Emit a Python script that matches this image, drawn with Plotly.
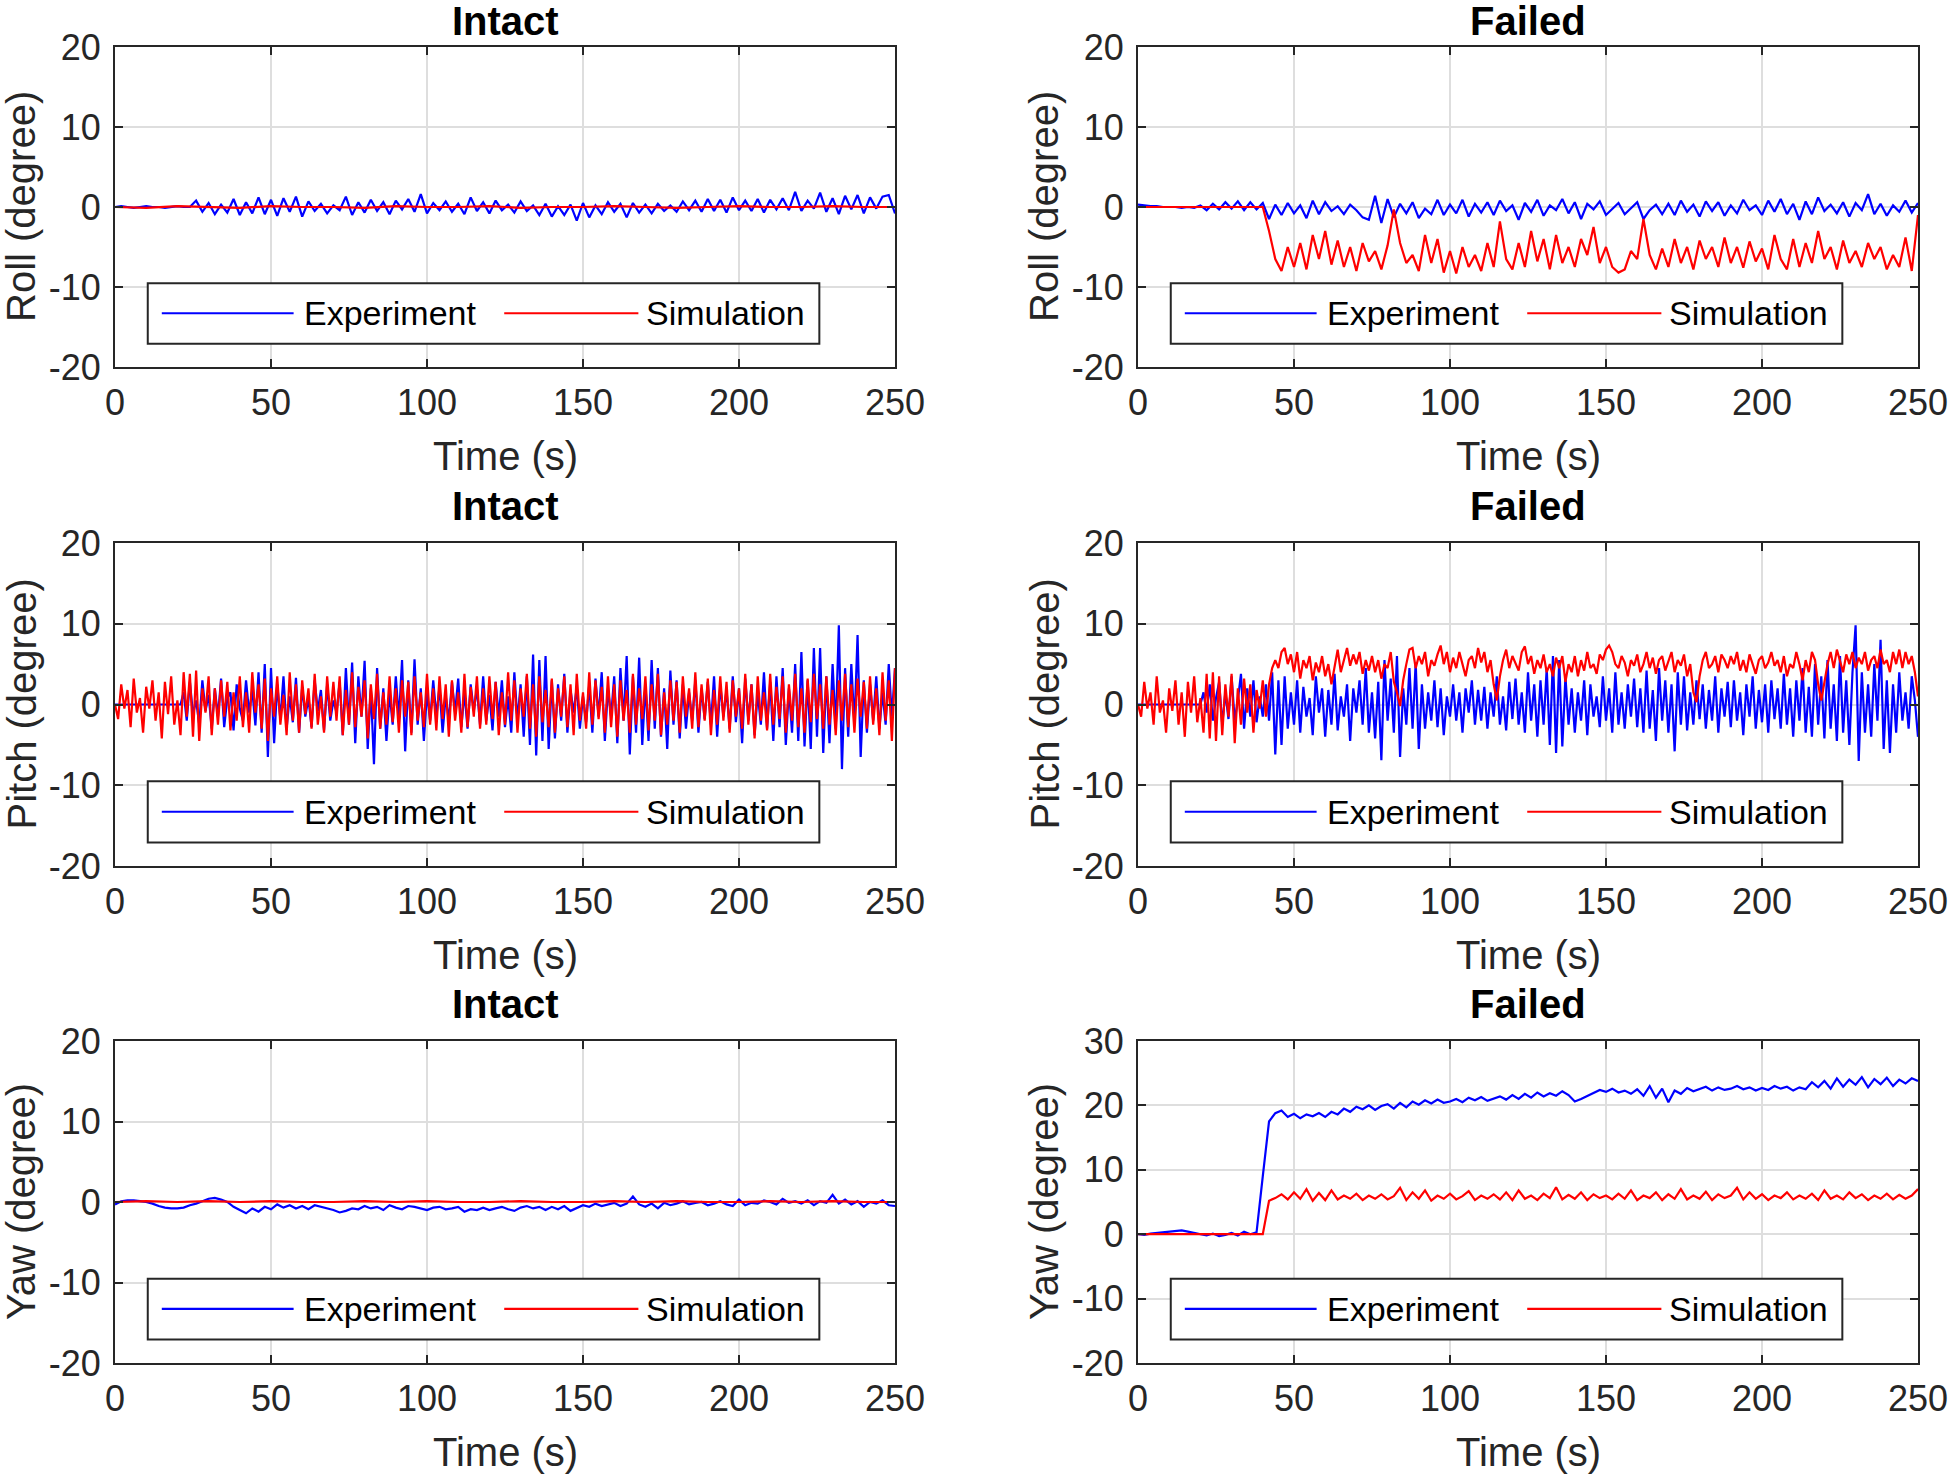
import numpy as np
import plotly.graph_objects as go

# ---------------- data ----------------
x_ticks = [0, 50, 100, 150, 200, 250]
y_ticks_std = [-20, -10, 0, 10, 20]
y_ticks_yawf = [-20, -10, 0, 10, 20, 30]
col_titles = ["Intact", "Failed"]
row_labels = ["Roll (degree)", "Pitch (degree)", "Yaw (degree)"]
series_names = ["Experiment", "Simulation"]

# Roll, intact (2 s samples)
roll_intact_exp = [
    0, 0.1, 0, -0.1, 0, 0.1, 0, 0, -0.1, 0, 0.1, 0, 0,
    0.8, -0.6, 0.5, -0.9, 0.3, -0.7, 1.0, -1.0, 0.6, -0.8, 1.2, -0.9,
    0.9, -1.1, 1.1, -0.6, 1.3, -1.2, 0.7, -0.5, 0.4, -0.8, 0.2, -0.4,
    1.3, -1.0, 0.6, -0.7, 0.9, -0.5, 0.6, -0.9, 0.8, -0.3, 1.0, -0.6,
    1.6, -0.8, 0.5, -0.4, 0.7, -0.6, 0.4, -0.9, 1.2, -0.5, 0.6, -0.8,
    0.8, -0.4, 0.3, -0.7, 0.7, -0.5, 0.2, -1.0, 0.4, -1.2, 0.1, -1.0,
    0.3, -1.7, 0.5, -1.3, 0.2, -0.9, 0.6, -0.6, 0.4, -1.3, 0.5, -0.7,
    0.3, -0.8, 0.4, -0.5, 0.2, -0.6, 0.7, -0.4, 0.8, -0.6, 1.0, -0.5,
    0.9, -0.7, 1.2, -0.4, 0.8, -0.5, 1.0, -0.7, 0.9, -0.3, 1.1, -0.4,
    1.9, -0.5, 0.8, -0.2, 1.8, -0.6, 1.1, -0.9, 1.4, -0.3, 1.5, -0.8,
    1.2, -0.2, 1.3, 1.5, -0.8]
roll_intact_sim = [0, -0.1, 0.1, 0, -0.1, 0.1, 0, 0, -0.1, 0.1, 0, 0, 0.1,
                   -0.1, 0, 0, 0.1, 0, -0.1, 0, 0.1, 0, 0, 0.1, 0, 0]

# Roll, failed (2 s samples)
roll_failed_exp = [
    0.3, 0.2, 0.1, 0.1, 0, 0, 0, -0.1, 0, -0.1,
    0.2, -0.4, 0.4, -0.3, 0.6, -0.2, 0.7, -0.4, 0.6, -0.3,
    0.5, -1.5, 0.3, -1.0, 0.5, -0.8, 0.2, -1.4, 0.8, -0.9,
    0.6, -0.5, 0.1, -0.9, 0.3, -0.4, -1.3, -1.6, 1.4, -2.0,
    1.0, -1.3, 0.4, -0.8, 0.6, -1.4, -0.2, -0.9, 0.9, -1.0,
    0.3, -0.8, 0.9, -1.2, 0.4, -0.7, 0.6, -1.0, 0.8, -0.5,
    0.2, -1.6, 0.5, -0.6, 0.9, -1.1, 0.2, -0.4, 1.0, -0.8,
    0.6, -1.5, 0.4, -0.3, 0.7, -1.0, -0.3, 0.5, -0.9, -0.2,
    0.6, -1.5, -0.4, 0.3, -0.9, 0.4, -1.0, 0.8, -0.6, 0.3,
    -1.2, 0.7, -0.5, 0.6, -1.1, 0.2, -0.8, 0.9, -0.4, 0.2,
    -1.0, 0.8, -0.6, 1.0, -0.9, 0.4, -1.6, 0.7, -0.9, 1.2,
    -0.5, 0.3, -0.8, 0.6, -1.2, 0.5, -0.4, 1.6, -0.9, 0.4,
    -1.1, 0.2, -0.6, 0.8, -0.7, 0.5]
roll_failed_sim = [
    0, 0, 0, 0, 0, 0, 0, 0, 0, 0,
    0, 0, 0, 0, 0, 0, 0, 0, 0, 0, 0,
    -3.0, -6.5, -8.0, -5.0, -7.5, -4.5, -7.8, -3.5, -6.5, -3.0,
    -7.2, -4.2, -7.5, -5.0, -8.0, -4.5, -6.8, -5.5, -7.8, -4.8,
    -0.3, -4.5, -7.0, -6.0, -8.0, -3.5, -7.0, -4.0, -8.2, -5.5,
    -8.3, -5.0, -7.5, -6.0, -8.0, -4.5, -7.5, -1.8, -6.5, -7.8,
    -4.5, -7.5, -3.0, -6.8, -4.0, -7.8, -3.5, -7.0, -5.0, -7.5,
    -4.0, -6.0, -2.5, -7.0, -5.0, -7.5, -8.2, -7.8, -5.5, -6.5,
    -1.5, -6.0, -7.8, -5.2, -7.5, -4.0, -7.0, -5.0, -7.8, -4.2,
    -6.5, -5.0, -7.5, -3.8, -7.0, -5.0, -7.6, -4.3, -6.8, -5.2,
    -7.8, -3.5, -6.5, -7.8, -4.0, -7.5, -4.5, -7.0, -3.0, -6.5,
    -5.0, -7.8, -4.2, -7.0, -5.5, -7.5, -4.5, -6.5, -5.0, -7.8,
    -6.0, -7.5, -3.8, -8.0, -1.0]

# Pitch, intact (1 s samples)
pitch_intact_exp = [0] * 22 + [
    1.5, -2.0, 2.8, -1.2, 0.5, -2.5, 3.0, -0.8, 1.2, -3.0,
    2.0, -1.5, 3.2, -2.8, 0.8, 1.5, -3.2, 2.5, -0.5, -2.0,
    3.0, -1.0, 1.8, -2.6, 4.0, -3.5, 5.0, -6.5, 4.5, -4.8,
    2.5, -1.8, 3.5, -3.0, 1.0, -2.2, 3.3, -3.5, 2.2, -1.5,
    0.8, -2.8, 3.0, -0.8, 1.8, -3.2, 2.5, -2.0, 0.5, -1.0,
    2.8, -3.8, 4.5, -2.5, 5.2, -4.8, 3.5, -1.5, 5.4, -5.5,
    2.0, -7.4, 4.5, -3.0, 2.0, -4.5, 1.5, -2.5, 3.5, -1.8,
    5.5, -5.8, 3.0, -3.5, 5.6, -2.5, 2.0, -4.5, 1.5, -2.0,
    3.0, -1.5, 2.2, -3.5, 1.0, -2.0, 2.8, -1.0, 3.2, -2.8,
    1.5, -3.0, 2.5, -0.8, 2.0, -2.5, 3.5, -2.0, 1.2, -3.2,
    2.8, -1.5, 3.0, -2.8, 1.0, -3.5, 4.0, -2.0, 2.5, -4.0,
    3.5, -5.0, 6.2, -6.3, 5.5, -4.5, 6.0, -5.5, 3.0, -4.2,
    2.5, -2.0, 3.8, -3.5, 1.8, -1.0, 2.2, -3.0, 1.0, -2.2,
    2.5, -3.5, 3.2, -1.5, 4.0, -4.5, 2.0, -1.5, 3.5, -4.8,
    4.5, -2.0, 6.0, -6.2, 3.5, -3.5, 5.8, -5.0, 2.5, -4.5,
    5.5, -3.0, 4.5, -4.0, 2.0, -5.5, 4.2, -2.5, 3.0, -4.2,
    2.5, -3.0, 1.5, -2.0, 3.0, -3.5, 2.0, -1.8, 2.8, -2.5,
    3.5, -4.0, 2.5, -1.5, 1.8, -3.0, 3.5, -2.2, 2.0, -4.8,
    3.2, -2.0, 2.5, -3.8, 1.5, -2.5, 4.0, -3.0, 2.8, -4.5,
    3.5, -2.8, 4.5, -5.0, 2.0, -3.5, 5.0, -4.5, 6.5, -5.2,
    3.0, -5.5, 7.0, -4.0, 7.0, -6.0, 3.5, -4.8, 5.0, -3.0,
    9.8, -8.0, 4.5, -4.0, 5.0, -2.5, 8.6, -6.5, 3.0, -3.5,
    2.5, -2.0, 3.5, -3.0, 1.5, -2.5, 5.0, -1.5, 4.5]
pitch_intact_sim = [
    0.0, -1.8, 2.5, -0.5, 1.8, -2.8, 3.2, -1.0, 0.8, -3.5,
    2.2, -0.5, 3.0, -2.0, 1.5, -4.2, 2.8, -1.2, 3.5, -2.5,
    0.5, -3.8, 4.0, -1.5, 3.8, -4.0, 4.2, -4.5, 2.0, -1.0,
    3.5, -3.8, 2.0, -2.5, 3.0, -1.5, 2.8, -3.2, 1.5, -2.0,
    3.5, -2.8, 1.5, -3.5, 4.0, -1.0, 2.5, -3.0, 3.2, -4.5,
    2.0, -1.5, 3.5, -2.5, 1.2, -3.8, 4.0, -2.0, 2.5, -3.5,
    3.0, -1.2, 2.0, -3.0, 3.8, -2.5, 1.0, -3.5, 3.5, -1.5,
    2.8, -2.0, 3.5, -3.8, 1.8, -2.5, 4.0, -2.8, 2.2, -1.5,
    3.0, -4.2, 2.5, -1.8, 3.8, -3.0, 1.5, -2.5, 3.5, -2.2,
    2.0, -3.5, 3.0, -1.5, 2.8, -3.8, 3.5, -2.0, 1.5, -2.8,
    3.8, -2.5, 2.0, -3.2, 3.5, -1.8, 2.5, -4.0, 3.0, -2.0,
    1.5, -3.5, 3.8, -2.8, 2.2, -1.5, 3.5, -3.0, 2.0, -2.5,
    3.5, -1.8, 2.8, -3.8, 1.5, -2.5, 4.0, -2.0, 3.0, -3.5,
    2.0, -1.5, 3.8, -3.0, 2.5, -4.0, 3.5, -2.2, 1.8, -2.8,
    3.2, -3.5, 2.0, -1.5, 3.5, -2.8, 2.5, -3.8, 3.8, -2.0,
    1.5, -3.0, 4.0, -2.5, 3.0, -1.8, 2.2, -3.5, 3.5, -2.8,
    2.5, -4.0, 3.0, -2.0, 1.8, -3.5, 3.8, -2.5, 2.0, -1.8,
    3.5, -3.2, 2.5, -2.0, 3.8, -3.8, 1.5, -2.5, 3.0, -2.0,
    2.8, -3.5, 3.5, -1.5, 2.0, -3.0, 4.0, -2.8, 2.5, -2.0,
    3.2, -3.8, 1.8, -2.5, 3.5, -2.0, 2.8, -3.5, 3.0, -1.5,
    2.0, -3.0, 3.8, -2.5, 2.5, -4.2, 3.5, -2.0, 1.5, -3.2,
    3.8, -2.5, 2.2, -1.8, 3.5, -3.5, 2.5, -2.0, 3.8, -2.8,
    2.0, -3.5, 3.2, -2.2, 3.8, -1.8, 2.5, -3.0, 3.5, -2.5,
    1.8, -3.8, 3.0, -2.0, 3.8, -2.8, 2.5, -3.5, 3.2, -1.5,
    2.8, -3.0, 3.5, -2.5, 2.0, -3.8, 4.0, -2.0, 3.0, -4.5,
    4.5]

# Pitch, failed (1 s samples)
pitch_failed_exp = [0] * 21 + [
    1.5, -1.0, 2.5, -2.0, 0.8, 2.8, -2.5, 1.5, -1.8, 3.5,
    -2.0, 0.5, 3.8, -3.0, 2.0, -1.5, 3.0, -2.2, 1.0, -1.5,
    2.5, -2.0, 4.0, -6.2, 3.0, -5.0, 3.5, -3.0, 1.5, -2.5,
    3.0, -3.5, 2.2, -1.5, 0.8, -3.8, 3.5, -1.0, 2.0, -4.0,
    1.8, -2.5, 3.8, -3.2, 1.0, -1.5, 2.5, -4.5, 2.0, -1.0,
    3.0, -2.5, 4.5, -3.5, 1.5, -4.2, 2.8, -6.9, 5.5, -2.0,
    3.2, -3.5, 6.0, -6.5, 2.0, -2.5, 4.5, -3.0, 5.2, -5.5,
    2.5, -3.0, 1.5, -2.0, 3.0, -2.8, 2.0, -3.8, 1.0, -1.5,
    2.5, -2.0, 1.5, -3.5, 2.0, -1.0, 3.0, -2.5, 1.8, -2.0,
    2.2, -3.0, 1.5, -1.5, 3.5, -2.5, 1.0, -3.2, 2.8, -1.8,
    3.2, -2.5, 1.5, -3.5, 4.0, -2.0, 2.5, -4.0, 3.0, -2.5,
    4.5, -5.0, 6.0, -6.0, 5.5, -5.2, 3.5, -2.5, 2.0, -3.5,
    1.5, -2.0, 3.0, -3.8, 2.5, -1.5, 1.0, -2.8, 3.5, -2.0,
    2.0, -3.5, 4.0, -2.5, 1.5, -3.0, 2.5, -1.5, 3.2, -2.8,
    2.0, -3.5, 4.2, -3.0, 1.8, -4.5, 4.5, -2.0, 3.0, -3.5,
    2.5, -5.8, 4.0, -2.5, 3.5, -3.2, 1.5, -2.5, 3.0, -1.8,
    2.5, -3.0, 1.8, -2.0, 3.5, -3.5, 2.0, -1.5, 2.8, -2.8,
    3.0, -2.0, 1.5, -3.8, 2.5, -1.5, 3.5, -3.0, 1.8, -2.2,
    2.5, -3.5, 3.0, -1.8, 2.0, -3.0, 3.8, -2.5, 2.0, -4.0,
    3.0, -2.0, 4.5, -3.5, 2.2, -4.0, 5.0, -2.5, 3.5, -4.2,
    5.5, -3.0, 2.5, -4.5, 6.0, -3.5, 3.0, -5.0, 4.0, 9.8,
    -7.0, 4.0, -3.5, 2.5, -4.0, 5.0, -2.0, 8.0, -5.5, 3.0,
    -6.0, 2.5, -3.5, 4.0, -2.0, 1.5, -3.0, 3.5, 0.5, -4.0]
pitch_failed_sim = [
    0.0, -1.5, 2.8, -0.5, 1.5, -2.5, 3.5, -1.0, 0.5, -3.5,
    2.0, -0.8, 3.0, -2.5, 1.5, -4.0, 2.8, -1.0, 3.5, -2.2,
    0.8, -3.5, 3.8, -4.2, 4.0, -4.5, 3.5, -3.8, 2.5, -1.5,
    3.8, -4.8, 2.0, -2.5, 3.2, -1.0, 2.5, -3.5, 1.8, -0.5,
    3.0, -1.5, 2.5, 4.5, 5.5, 4.5, 6.5, 7.0, 5.0, 6.2,
    4.0, 6.5, 3.2, 5.5, 4.5, 6.0, 3.0, 5.2, 4.0, 6.0,
    3.5, 5.0, 2.5, 4.5, 6.8, 4.0, 5.5, 7.0, 4.8, 6.2,
    5.0, 6.5, 3.8, 5.5, 4.2, 6.0, 4.0, 5.5, 3.2, 5.0,
    4.5, 6.5, 2.8, 1.5, -0.2, 3.0, 5.0, 6.8, 7.0, 4.5,
    6.0, 5.0, 6.5, 3.5, 5.5, 4.8, 6.2, 7.3, 5.0, 6.5,
    4.0, 5.8, 4.5, 6.5, 5.0, 3.5, 5.5, 6.0, 4.5, 7.0,
    5.2, 6.5, 4.0, 5.5, 2.5, 0.5, 3.5, 5.5, 6.8, 4.5,
    6.0, 5.0, 4.2, 6.5, 7.2, 5.0, 6.0, 3.8, 5.5, 4.5,
    6.2, 4.0, 5.0, 3.5, 5.8, 4.5, 6.0, 2.8, 5.0, 4.0,
    6.0, 3.5, 5.5, 4.2, 6.5, 4.5, 5.0, 3.8, 6.2, 5.5,
    6.8, 7.3, 6.5, 5.0, 4.5, 6.0, 5.2, 3.5, 5.5, 4.8,
    6.2, 4.0, 5.0, 6.5, 4.5, 5.8, 3.8, 5.5, 6.0, 4.2,
    5.5, 6.5, 4.0, 5.5, 4.8, 6.2, 3.5, 5.0, 1.5, 0.3,
    3.5, 5.5, 6.5, 4.5, 5.0, 6.0, 4.0, 6.2, 5.5, 4.5,
    6.0, 5.0, 6.5, 4.2, 5.5, 4.0, 6.2, 5.0, 3.8, 5.5,
    6.0, 4.5, 5.2, 6.5, 4.8, 5.5, 4.0, 6.0, 3.5, 5.0,
    4.5, 6.5, 5.0, 3.0, 5.5, 4.0, 6.5, 5.5, 2.5, 0.5,
    3.0, 5.0, 6.5, 4.5, 6.8, 5.5, 4.0, 6.2, 5.0, 6.5,
    4.5, 5.8, 5.0, 6.5, 4.2, 5.5, 6.0, 4.5, 6.8, 5.0,
    5.5, 4.0, 6.5, 5.0, 6.8, 4.5, 6.5, 5.0, 6.0, 4.0,
    1.0]

# Yaw, intact (2 s samples)
yaw_intact_exp = [
    -0.3, 0.1, 0.2, 0.2, 0.1, 0.0, -0.2, -0.5, -0.7, -0.8,
    -0.8, -0.7, -0.4, -0.2, 0.1, 0.4, 0.5, 0.3, 0.0, -0.6,
    -1.0, -1.4, -0.8, -1.2, -0.6, -0.9, -0.3, -0.7, -0.4, -0.8,
    -0.5, -0.9, -0.4, -0.6, -0.8, -1.0, -1.3, -1.1, -0.8, -0.9,
    -0.5, -0.8, -0.6, -1.0, -0.4, -0.7, -0.9, -0.5, -0.6, -0.8,
    -1.0, -0.7, -0.6, -0.9, -0.8, -0.6, -1.2, -0.9, -1.0, -0.7,
    -1.0, -0.8, -0.6, -0.9, -1.1, -0.7, -0.5, -0.8, -0.6, -1.0,
    -0.6, -0.9, -0.5, -1.1, -0.7, -0.4, -0.6, -0.2, -0.5, -0.3,
    -0.1, -0.5, -0.2, 0.7, -0.3, -0.6, -0.2, -0.8, -0.1, -0.4,
    -0.2, 0.1, -0.3, -0.1, 0.0, -0.4, -0.2, 0.1, -0.3, -0.5,
    0.3, -0.4, -0.1, -0.2, 0.2, 0.0, -0.3, 0.4, -0.1, 0.1,
    -0.2, 0.2, -0.4, 0.1, -0.1, 0.9, -0.2, 0.3, -0.3, 0.1,
    -0.6, 0.0, -0.2, 0.2, -0.4, -0.5]
yaw_intact_sim = [0, 0.1, 0, 0.1, 0, 0.1, 0, 0, 0.1, 0, 0.1, 0, 0,
                  0.1, 0, 0, 0.1, 0, 0.1, 0, 0, 0.1, 0, 0.1, 0, 0]

# Yaw, failed (2 s samples)
yaw_failed_exp = [
    0.0, -0.1, 0.1, 0.2, 0.3, 0.5, 0.6, 0.6, 0.4, 0.2,
    0.0, -0.2, 0.1, -0.3, -0.1, 0.2, -0.2, 0.4, 0.0, 0.3,
    9.0, 17.5, 18.8, 19.2, 18.2, 18.7, 18.0, 18.6, 18.3, 18.8,
    18.2, 19.0, 18.6, 19.5, 19.0, 19.8, 19.4, 20.0, 19.3, 19.9,
    20.2, 19.5, 20.4, 19.7, 20.6, 20.1, 20.8, 20.3, 20.9, 20.4,
    20.6, 21.0, 20.5, 21.2, 20.8, 21.3, 20.7, 21.1, 21.4, 20.9,
    21.6, 21.0, 21.8, 21.2, 22.0, 21.4, 21.9, 21.5, 22.2, 21.6,
    20.6, 21.0, 21.5, 22.0, 22.4, 22.1, 22.6, 22.0, 22.3, 21.8,
    22.5, 21.5, 23.0, 21.2, 22.6, 20.5, 22.3, 21.8, 22.7, 22.2,
    22.5, 22.9, 22.3, 22.8, 22.4, 22.6, 23.0, 22.5, 22.8, 22.3,
    22.7, 22.4, 23.0, 22.6, 22.9, 22.3, 22.8, 22.5, 23.6, 22.8,
    23.8, 22.6, 24.2, 22.9, 24.0, 23.2, 24.4, 22.8, 24.1, 23.3,
    24.3, 23.0, 24.0, 23.4, 24.2, 23.8]
yaw_failed_sim = [
    0.0, 0.0, 0.0, 0.0, 0.0, 0.0, 0.0, 0.0, 0.0, 0.0,
    0.0, 0.0, 0.0, 0.0, 0.0, 0.0, 0.0, 0.0, 0.0, 0.0,
    0.0, 5.2, 5.6, 6.2, 5.4, 6.5, 5.5, 7.0, 5.2, 6.4,
    5.3, 6.8, 5.4, 6.0, 5.5, 6.3, 5.3, 6.0, 5.5, 6.2,
    5.4, 5.9, 7.2, 5.3, 6.5, 5.5, 6.8, 5.2, 6.0, 5.5,
    6.3, 5.4, 5.9, 6.7, 5.3, 6.0, 5.5, 6.2, 5.4, 6.5,
    5.3, 6.8, 5.5, 6.0, 5.3, 6.3, 5.6, 7.3, 5.4, 6.1,
    5.5, 6.5, 5.3, 6.2, 5.6, 6.0, 5.4, 6.3, 5.5, 6.8,
    5.3, 6.0, 5.6, 6.5, 5.3, 6.2, 5.5, 7.0, 5.4, 6.0,
    5.5, 6.6, 5.3, 6.2, 5.6, 6.0, 7.2, 5.4, 6.5, 5.5,
    6.2, 5.3, 6.0, 5.6, 6.5, 5.4, 6.0, 5.5, 6.3, 5.3,
    6.8, 5.5, 6.0, 5.4, 6.5, 5.6, 6.2, 5.3, 6.0, 5.5,
    6.3, 5.4, 6.1, 5.5, 6.0, 7.0]

# ---------------- layout ----------------
W, H = 1949, 1475
COLS_PX = [(115, 895), (1138, 1918)]
ROWS_PX = [(47, 367), (543, 866), (1041, 1363)]
FONT = "Liberation Sans, Arial, sans-serif"
TXT = "#262626"
BLUE, RED = "#0000FF", "#FF0000"

panels = [
    (roll_intact_exp, roll_intact_sim, y_ticks_std),
    (roll_failed_exp, roll_failed_sim, y_ticks_std),
    (pitch_intact_exp, pitch_intact_sim, y_ticks_std),
    (pitch_failed_exp, pitch_failed_sim, y_ticks_std),
    (yaw_intact_exp, yaw_intact_sim, y_ticks_std),
    (yaw_failed_exp, yaw_failed_sim, y_ticks_yawf),
]


def px_x(p):
    return p / W


def px_y(p):
    return 1 - p / H


fig = go.Figure()
annotations = []
shapes = []

for i, (exp, sim, yt) in enumerate(panels):
    r, c = divmod(i, 2)
    n = "" if i == 0 else str(i + 1)
    xa, ya = "x" + n, "y" + n
    x0, x1 = COLS_PX[c]
    y0, y1 = ROWS_PX[r]

    for vals, name, color in ((exp, series_names[0], BLUE), (sim, series_names[1], RED)):
        t = np.linspace(0, 250, len(vals))
        fig.add_trace(go.Scatter(x=t, y=vals, mode="lines", name=name,
                                 line=dict(color=color, width=2.2),
                                 xaxis=xa, yaxis=ya, showlegend=False,
                                 hoverinfo="skip"))

    common = dict(showline=True, linecolor=TXT, linewidth=2, mirror="ticks",
                  ticks="inside", ticklen=8, tickwidth=2, tickcolor=TXT,
                  showgrid=True, gridcolor="#dedede", gridwidth=1.5,
                  zeroline=False, automargin=False, ticklabeloverflow="allow",
                  tickfont=dict(family=FONT, size=36, color=TXT))
    fig.layout["xaxis" + n] = dict(
        domain=[px_x(x0), px_x(x1)], anchor=ya, range=[0, 250],
        tickvals=x_ticks, ticktext=[str(v) for v in x_ticks],
        ticklabelstandoff=3, **common)
    fig.layout["yaxis" + n] = dict(
        domain=[px_y(y1), px_y(y0)], anchor=xa, range=[yt[0], yt[-1]],
        tickvals=yt, ticktext=[str(v) for v in yt],
        ticklabelstandoff=5, **common)

    xm = (x0 + x1) / 2
    ym = (y0 + y1) / 2
    # title (top row nudged down so it stays inside the page)
    t_gap = 2 if r == 0 else 13
    annotations.append(dict(text="<b>" + col_titles[c] + "</b>", x=px_x(xm), y=px_y(y0 - t_gap),
                            xref="paper", yref="paper", xanchor="center", yanchor="bottom",
                            showarrow=False, font=dict(family=FONT, size=40, color="#000000")))
    # x label
    annotations.append(dict(text="Time (s)", x=px_x(xm), y=px_y(y1 + 89),
                            xref="paper", yref="paper", xanchor="center", yanchor="middle",
                            showarrow=False, font=dict(family=FONT, size=40, color=TXT)))
    # y label
    annotations.append(dict(text=row_labels[r], x=px_x(x0 - 94), y=px_y(ym),
                            xref="paper", yref="paper", xanchor="center", yanchor="middle",
                            textangle=-90, showarrow=False,
                            font=dict(family=FONT, size=40, color=TXT)))

    # legend box (MATLAB style)
    xd, yd = xa + " domain", ya + " domain"
    shapes.append(dict(type="rect", xref=xd, yref=yd, x0=0.042, x1=0.903, y0=0.073, y1=0.262,
                       line=dict(color=TXT, width=2), fillcolor="white", layer="above"))
    ly = 0.168
    shapes.append(dict(type="line", xref=xd, yref=yd, x0=0.06, x1=0.229, y0=ly, y1=ly,
                       line=dict(color=BLUE, width=2.2), layer="above"))
    shapes.append(dict(type="line", xref=xd, yref=yd, x0=0.499, x1=0.671, y0=ly, y1=ly,
                       line=dict(color=RED, width=2.2), layer="above"))
    for txt, xx in ((series_names[0], 0.240), (series_names[1], 0.678)):
        annotations.append(dict(text=txt, x=xx, y=ly, xref=xd, yref=yd,
                                xanchor="left", yanchor="middle", showarrow=False,
                                font=dict(family=FONT, size=34, color="#000000")))

fig.update_layout(width=W, height=H, margin=dict(l=0, r=0, t=0, b=0, autoexpand=False),
                  paper_bgcolor="white", plot_bgcolor="white",
                  annotations=annotations, shapes=shapes, showlegend=False)

fig.write_html(
    "out.html",
    config={"displayModeBar": False},
    post_script="document.body.style.margin='0';"
                "document.documentElement.style.overflow='hidden';",
)
